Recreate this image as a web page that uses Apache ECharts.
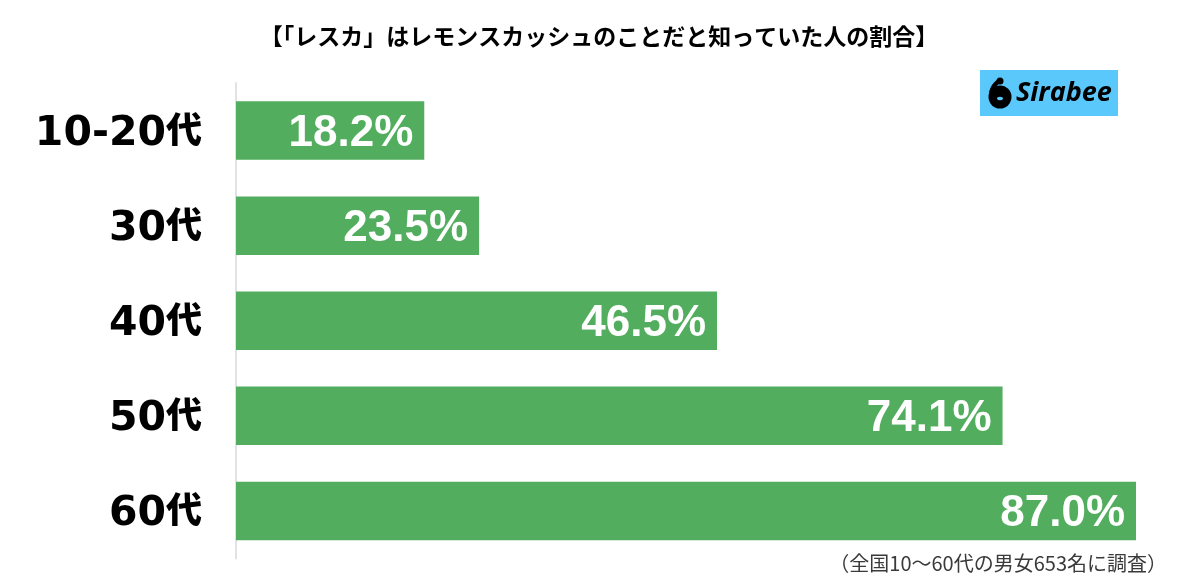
<!DOCTYPE html>
<html>
<head>
<meta charset="utf-8">
<style>
html,body{margin:0;padding:0;background:#fff;}
#chart{width:1200px;height:587px;}
</style>
<script src="https://cdn.jsdelivr.net/npm/echarts@6/dist/echarts.min.js"></script>
</head>
<body>
<div id="chart"></div>
<script>
var categories = ['10-20代', '30代', '40代', '50代', '60代'];
var values = [18.2, 23.5, 46.5, 74.1, 87.0];
var titleText = '【「レスカ」はレモンスカッシュのことだと知っていた人の割合】';
var noteText = '（全国10〜60代の男女653名に調査）';
var logoText = 'Sirabee';

var jpFont = '"Noto Sans CJK JP"';
var myChart = echarts.init(document.getElementById('chart'), null, {renderer: 'canvas'});

var option = {
	animation: false,
	backgroundColor: '#ffffff',
	title: {
		text: titleText,
		left: 594,
		top: 20,
		textAlign: 'center',
		textStyle: {fontFamily: jpFont, fontSize: 23, fontWeight: 'bold', color: '#000000'}
	},
	grid: {left: 236, top: 83, width: 900, height: 475.5},
	xAxis: {
		type: 'value',
		min: 0,
		max: 87,
		show: false
	},
	yAxis: {
		type: 'category',
		inverse: true,
		data: categories,
		axisTick: {show: false},
		axisLine: {lineStyle: {color: '#e2e2e2', width: 2}},
		axisLabel: {
			margin: 34,
			// 数字和"代"分开设字体
			formatter: function(val) {
				return '{num|' + val.replace('代', '') + '}{dai|代}';
			},
			rich: {
				num: {fontFamily: '"DejaVu Sans"', fontSize: 41, fontWeight: 'bold', color: '#000000', lineHeight: 44, verticalAlign: 'middle', padding: [7, 0, 0, 0]},
				dai: {fontFamily: jpFont, fontSize: 36, fontWeight: 900, color: '#000000', lineHeight: 44, verticalAlign: 'middle', padding: [0, 0, 3, 0]}
			}
		}
	},
	series: [{
		type: 'bar',
		data: values,
		barWidth: 58.5,
		itemStyle: {color: '#52ae5e'},
		label: {
			show: true,
			position: 'insideRight',
			distance: 11,
			offset: [0, 3],
			formatter: function(p) { return p.value.toFixed(1) + '%'; },
			fontFamily: '"Liberation Sans"',
			fontSize: 44,
			fontWeight: 'bold',
			color: '#ffffff'
		}
	}],
	graphic: [
		{type: 'rect', shape: {x: 980, y: 70, width: 138, height: 46}, style: {fill: '#5ac8fa'}},
		// logo图标
		{type: 'circle', shape: {cx: 1000, cy: 97, r: 11.5}, style: {fill: '#000000'}},
		{type: 'circle', shape: {cx: 1000, cy: 81, r: 3.5}, style: {fill: '#000000'}},
		{type: 'polyline', shape: {points: [[999, 81], [994, 86], [991, 93]], smooth: 0.4}, style: {stroke: '#000000', fill: 'none', lineWidth: 4.5}},
		{type: 'ellipse', shape: {cx: 1000, cy: 98.5, rx: 3, ry: 1.8}, style: {fill: '#5ac8fa'}},
		{type: 'text', style: {x: 1016, y: 80, text: logoText, fill: '#000000', font: 'italic bold 27px "Open Sans"'}},
		{type: 'text', style: {x: 1167, y: 553, text: noteText, fill: '#3a3a3a', textAlign: 'right', font: '20px ' + jpFont}}
	]
};
myChart.setOption(option);
</script>
</body>
</html>
